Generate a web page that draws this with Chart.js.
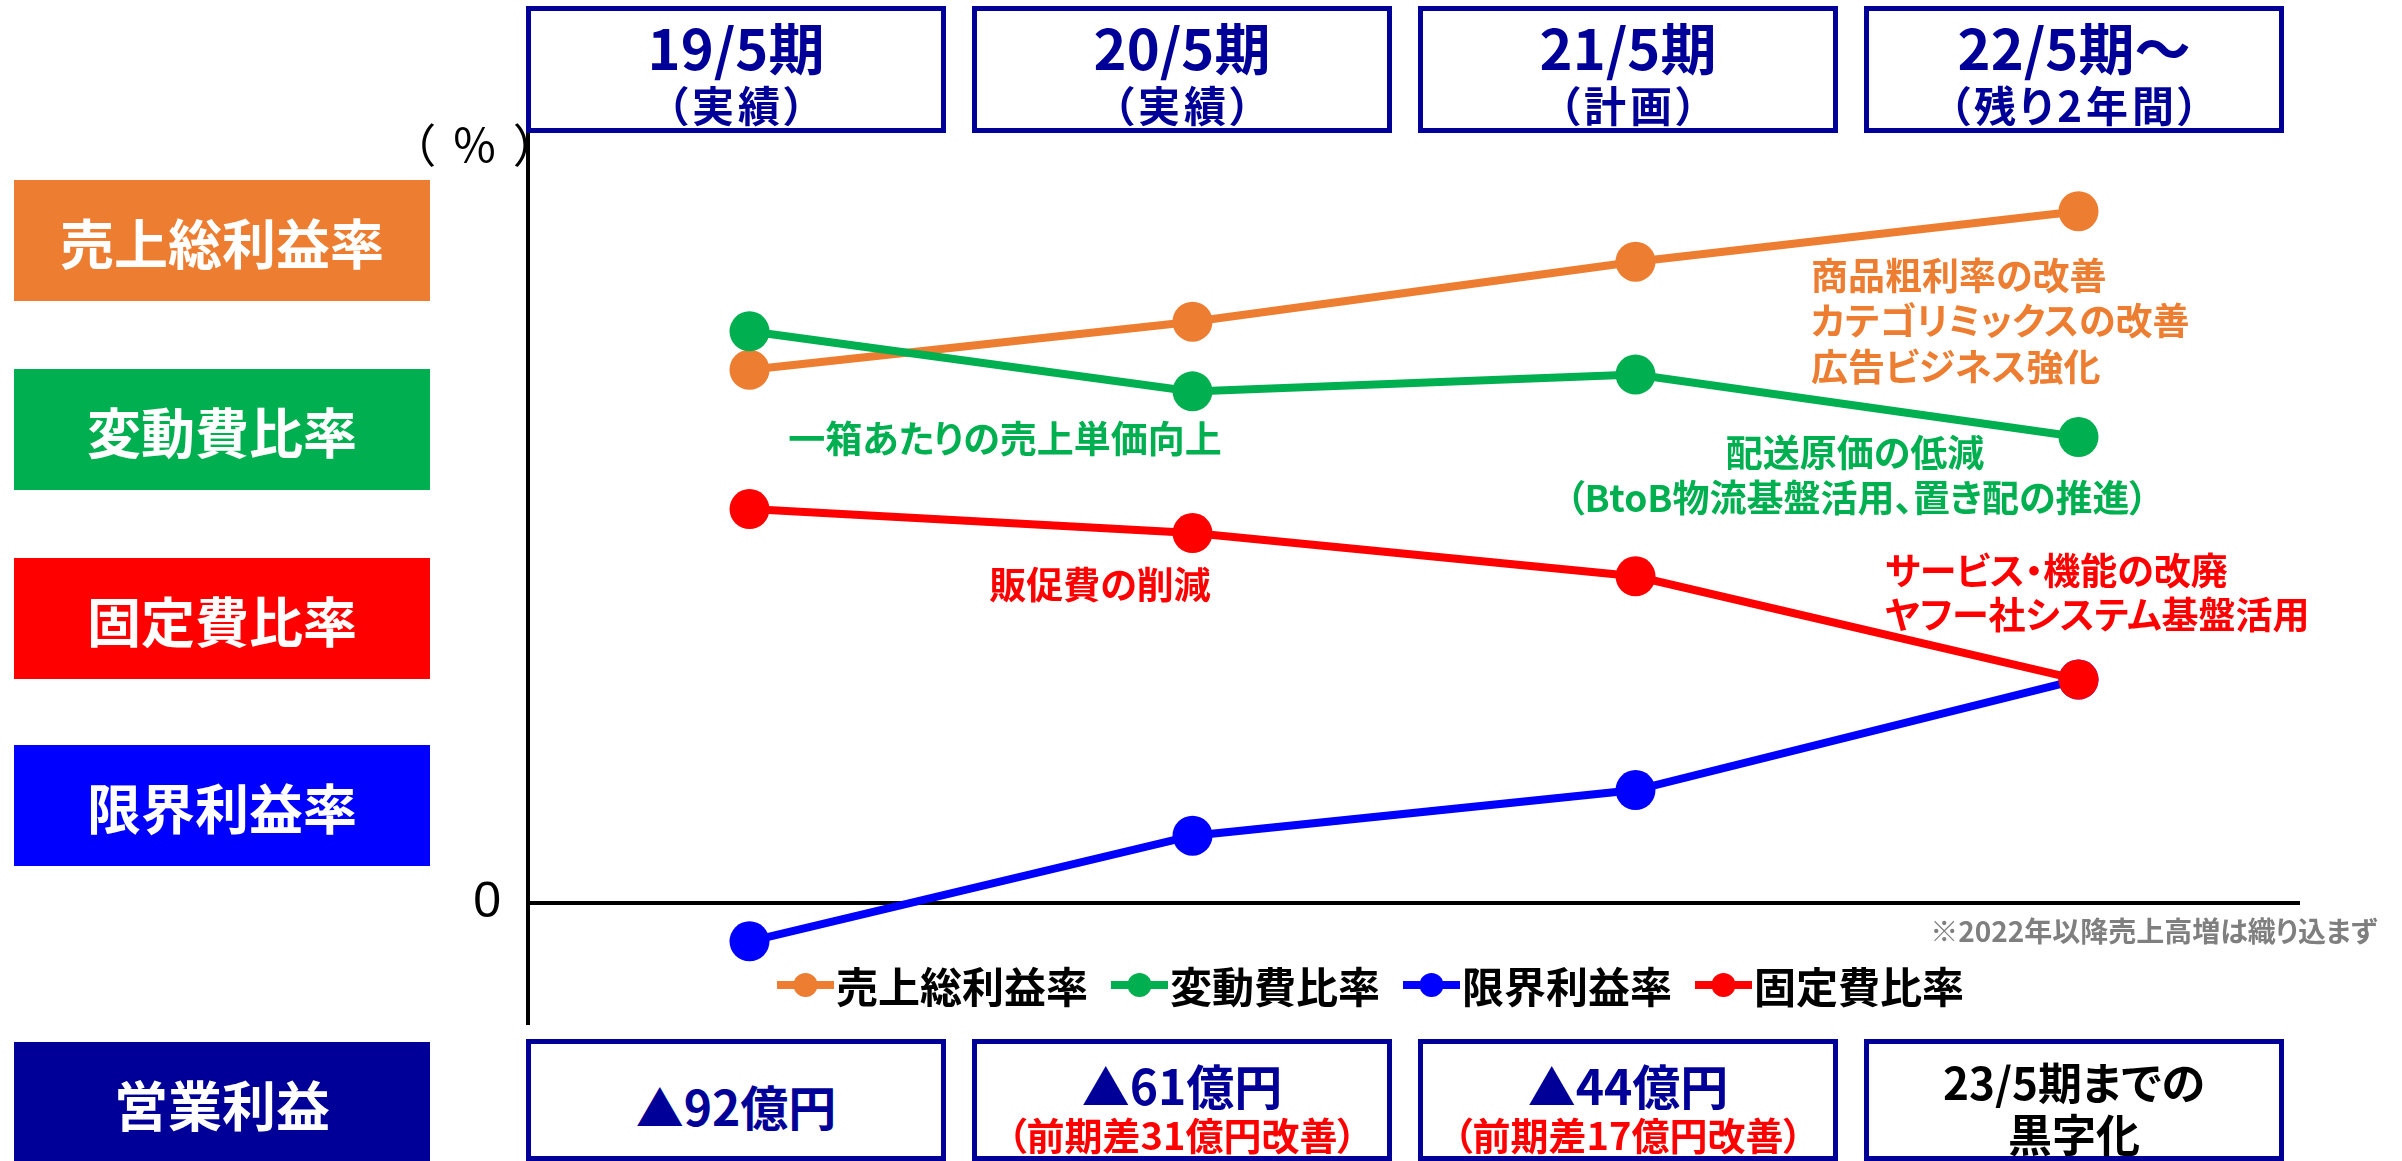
<!DOCTYPE html>
<html lang="ja">
<head>
<meta charset="utf-8">
<script src="https://cdn.jsdelivr.net/npm/chart.js@4/dist/chart.umd.min.js"></script>
<style>
  html, body { margin: 0; padding: 0; background: #fff; }
  #page { position: relative; width: 2402px; height: 1161px; overflow: hidden;
          font-family: "Noto Sans CJK JP", sans-serif; font-weight: bold;
          font-feature-settings: "palt"; }
  #c { position: absolute; left: 0; top: 0; }
  .box { position: absolute; box-sizing: border-box; border: 5px solid #000099; background: #fff; }
  .side { position: absolute; left: 14px; width: 416px; height: 121px; }
  .t { position: absolute; transform: translate(-50%, -50%); white-space: nowrap; line-height: 1; }
  .l { position: absolute; white-space: nowrap; line-height: 1; }
</style>
</head>
<body>
<div id="page">
  <canvas id="c" width="2402" height="1161"></canvas>
</div>
<script>
// data (scale is schematic, % points)
const periods = ['19/5期', '20/5期', '21/5期', '22/5期～']
const periodNotes = ['（実績）', '（実績）', '（計画）', '（残り2年間）']
const grossMargin = [22.2, 24.2, 26.7, 28.8]
const variableCost = [23.8, 21.3, 22.0, 19.4]
const marginalProfit = [-1.6, 2.8, 4.7, 9.3]
const fixedCost = [16.4, 15.4, 13.6, 9.3]
const opProfit = ['▲92億円', '▲61億円', '▲44億円', '23/5期までの']
const opProfitNotes = ['', '（前期差31億円改善）', '（前期差17億円改善）', '黒字化']

const ORANGE = '#ED7D31', GREEN = '#00B050', BLUE = '#0000FF', RED = '#FF0000', NAVY = '#000099'

const page = document.getElementById('page')

function addText(cls, x, y, txt, style) {
  const d = document.createElement('div')
  d.className = cls
  d.style.left = x + 'px'
  d.style.top = y + 'px'
  d.textContent = txt
  Object.assign(d.style, style || {})
  page.appendChild(d)
  return d
}

// period boxes on top and operating profit boxes at the bottom
const boxLeft = [526, 972, 1418, 1864]
for (let i = 0; i < periods.length; i++) {
  const top = document.createElement('div')
  top.className = 'box'
  Object.assign(top.style, { left: boxLeft[i] + 'px', top: '6px', width: '420px', height: '127px' })
  page.appendChild(top)
  const cx = boxLeft[i] + 210
  addText('t', cx, 46, periods[i], { fontSize: '56px', color: NAVY })
  addText('t', cx + 2, 104, periodNotes[i], { fontSize: '42px', color: NAVY, letterSpacing: '4px' })

  const bot = document.createElement('div')
  bot.className = 'box'
  Object.assign(bot.style, { left: boxLeft[i] + 'px', top: '1039px', width: '420px', height: '122px' })
  page.appendChild(bot)
  if (i === 0) {
    addText('t', cx, 1105, opProfit[i], { fontSize: '48px', color: NAVY })
  } else if (i < 3) {
    addText('t', cx, 1084, opProfit[i], { fontSize: '48px', color: NAVY })
    addText('t', cx, 1134, opProfitNotes[i], { fontSize: '38px', color: RED })
  } else {
    addText('t', cx, 1081, opProfit[i], { fontSize: '44px', color: '#000' })
    addText('t', cx, 1133, opProfitNotes[i], { fontSize: '44px', color: '#000' })
  }
}

// coloured labels on the left
const sideLabels = [
  ['売上総利益率', ORANGE, 180],
  ['変動費比率', GREEN, 369],
  ['固定費比率', RED, 558],
  ['限界利益率', BLUE, 745],
  ['営業利益', NAVY, 1042]
]
sideLabels.forEach(([txt, col, y]) => {
  const d = document.createElement('div')
  d.className = 'side'
  d.style.top = y + 'px'
  d.style.background = col
  page.appendChild(d)
  addText('t', 222, y + 62, txt, { fontSize: '54px', color: '#fff' })
})

// axis unit
addText('t', 483, 142, '（％）', { fontSize: '46px', color: '#000', fontWeight: 'normal', letterSpacing: '17px' })

// comments
addText('l', 1811, 256, '商品粗利率の改善', { fontSize: '37px', color: ORANGE })
addText('l', 1811, 301, 'カテゴリミックスの改善', { fontSize: '37px', color: ORANGE })
addText('l', 1811, 347, '広告ビジネス強化', { fontSize: '37px', color: ORANGE })
addText('t', 1005, 437, '一箱あたりの売上単価向上', { fontSize: '37px', color: GREEN })
addText('t', 1855, 451, '配送原価の低減', { fontSize: '37px', color: GREEN })
addText('t', 1857, 496, '（BtoB物流基盤活用、置き配の推進）', { fontSize: '37px', color: GREEN })
addText('t', 1100, 583, '販促費の削減', { fontSize: '37px', color: RED })
addText('l', 1885, 551, 'サービス・機能の改廃', { fontSize: '37px', color: RED })
addText('l', 1885, 595, 'ヤフー社システム基盤活用', { fontSize: '37px', color: RED })
addText('l', 2377, 916, '※2022年以降売上高増は織り込まず', { fontSize: '28px', color: '#7F7F7F', transform: 'translateX(-100%)' })

// legend drawn inside the plot, under the zero line
const insideLegend = {
  id: 'insideLegend',
  afterDraw(chart) {
    const ctx = chart.ctx
    let x = 777
    const y = 985
    ctx.save()
    ctx.font = 'bold 42px "Noto Sans CJK JP"'
    ctx.textBaseline = 'middle'
    chart.data.datasets.forEach(ds => {
      ctx.strokeStyle = ds.borderColor
      ctx.lineWidth = 8
      ctx.beginPath()
      ctx.moveTo(x, y)
      ctx.lineTo(x + 57, y)
      ctx.stroke()
      ctx.fillStyle = ds.borderColor
      ctx.beginPath()
      ctx.arc(x + 28.5, y, 12, 0, Math.PI * 2)
      ctx.fill()
      ctx.fillStyle = '#000'
      ctx.fillText(ds.label, x + 59, y + 2)
      x += 59 + ctx.measureText(ds.label).width + 23
    })
    ctx.restore()
  }
}

const mkLine = (label, data, color, order) => ({
  label: label,
  data: data,
  borderColor: color,
  backgroundColor: color,
  pointBackgroundColor: color,
  borderWidth: 8,
  pointRadius: 20,
  pointBorderWidth: 0,
  tension: 0,
  order: order
})

new Chart(document.getElementById('c').getContext('2d'), {
  type: 'line',
  data: {
    labels: periods,
    datasets: [
      mkLine('売上総利益率', grossMargin, ORANGE, 2),
      mkLine('変動費比率', variableCost, GREEN, 1),
      mkLine('限界利益率', marginalProfit, BLUE, 4),
      mkLine('固定費比率', fixedCost, RED, 3)
    ]
  },
  options: {
    responsive: false,
    animation: false,
    devicePixelRatio: 1,
    layout: { padding: { left: 0, right: 102, top: 132, bottom: 138 } },
    plugins: { legend: { display: false }, tooltip: { enabled: false } },
    scales: {
      x: { display: false, offset: true },
      y: {
        min: -5,
        max: 32.1,
        afterFit: s => { s.width = 528 },
        afterBuildTicks: s => { s.ticks = [{ value: 0 }] },
        grid: { drawTicks: false, color: '#000', lineWidth: 4 },
        border: { display: true, color: '#000', width: 4 },
        ticks: {
          padding: 27,
          color: '#000',
          font: { family: 'Liberation Sans', size: 50 },
          callback: v => String(v)
        }
      }
    }
  },
  plugins: [insideLegend]
})
</script>
</body>
</html>
